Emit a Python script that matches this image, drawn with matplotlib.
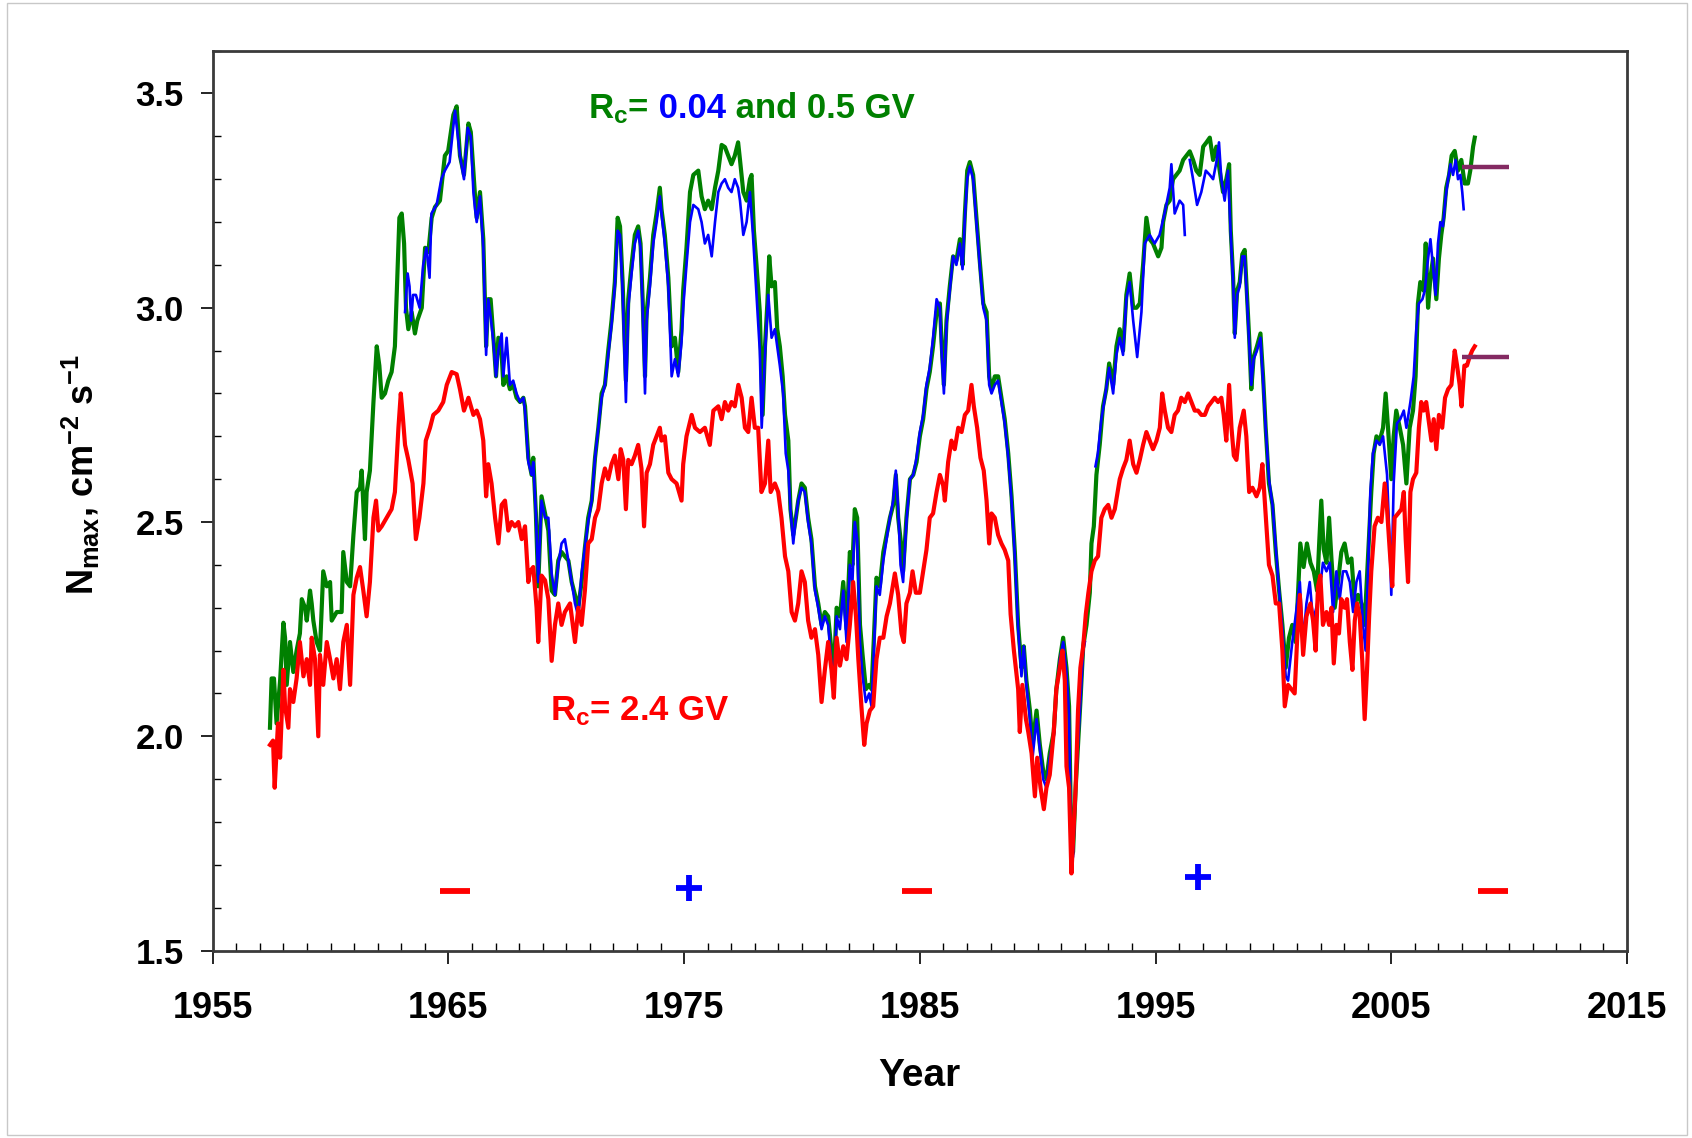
import numpy as np
import matplotlib
matplotlib.use('Agg')
import matplotlib.pyplot as plt
from matplotlib.patches import Rectangle
from matplotlib.ticker import MultipleLocator

plt.rcParams['font.family'] = 'Liberation Sans'
plt.rcParams['mathtext.fontset'] = 'custom'
plt.rcParams['mathtext.rm'] = 'Liberation Sans:bold'
plt.rcParams['mathtext.it'] = 'Liberation Sans:bold'
plt.rcParams['mathtext.bf'] = 'Liberation Sans:bold'
plt.rcParams['mathtext.default'] = 'rm'

nan = float('nan')

# Rc = 0.5 GV
green_t = [1957.43, 1957.50, 1957.60, 1957.71, 1957.86, 1958.00, 1958.07, 1958.14, 1958.28, 1958.42,
           1958.56, 1958.70, 1958.78, 1958.92, 1958.99, 1959.13, 1959.20, 1959.27, 1959.41, 1959.55,
           1959.69, 1959.84, 1959.98, 1960.05, 1960.26, 1960.47, 1960.54, 1960.69, 1960.83, 1960.97,
           1961.11, 1961.25, 1961.32, 1961.46, 1961.53, 1961.67, 1961.82, 1961.96, 1962.07, 1962.17,
           1962.31, 1962.45, 1962.59, 1962.73, 1962.80, 1962.92, 1963.02, 1963.12, 1963.20, 1963.30,
           1963.44, 1963.58, 1963.68, 1963.87, 1964.01, 1964.15, 1964.29, 1964.43, 1964.64, 1964.85,
           1964.99, 1965.21, 1965.35, 1965.49, 1965.66, 1965.85, 1965.95, 1966.06, 1966.13, 1966.20,
           1966.34, 1966.48, 1966.60, 1966.69, 1966.79, 1966.91, 1967.02, 1967.12, 1967.26, 1967.33,
           1967.47, 1967.61, 1967.75, 1967.89, 1968.04, 1968.18, 1968.25, 1968.39, 1968.53, 1968.60,
           1968.71, 1968.81, 1968.95, 1969.10, 1969.24, 1969.38, 1969.52, 1969.66, 1969.80, 1969.94,
           1970.09, 1970.23, 1970.37, 1970.51, 1970.65, 1970.79, 1970.93, 1971.08, 1971.22, 1971.36,
           1971.50, 1971.64, 1971.78, 1971.92, 1972.06, 1972.18, 1972.28, 1972.39, 1972.53, 1972.63,
           1972.77, 1972.91, 1973.05, 1973.15, 1973.24, 1973.34, 1973.41, 1973.55, 1973.69, 1973.83,
           1973.97, 1974.04, 1974.18, 1974.33, 1974.47, 1974.61, 1974.75, 1974.89, 1974.96, 1975.10,
           1975.25, 1975.39, 1975.60, 1975.74, 1975.88, 1976.02, 1976.17, 1976.31, 1976.45, 1976.59,
           1976.73, 1976.87, 1977.01, 1977.15, 1977.29, 1977.37, 1977.51, 1977.65, 1977.79, 1977.86,
           1977.96, 1978.07, 1978.21, 1978.33, 1978.43, 1978.53, 1978.61, 1978.71, 1978.85, 1978.95,
           1979.06, 1979.18, 1979.28, 1979.42, 1979.51, 1979.63, 1979.74, 1979.84, 1979.98, 1980.12,
           1980.26, 1980.40, 1980.55, 1980.69, 1980.83, 1980.97, 1981.11, 1981.25, 1981.35, 1981.47,
           1981.61, 1981.75, 1981.89, 1982.03, 1982.14, 1982.24, 1982.34, 1982.46, 1982.57, 1982.71,
           1982.85, 1982.95, 1983.05, 1983.16, 1983.30, 1983.45, 1983.59, 1983.73, 1983.87, 1983.98,
           1984.08, 1984.18, 1984.29, 1984.43, 1984.58, 1984.72, 1984.86, 1985.00, 1985.14, 1985.28,
           1985.42, 1985.56, 1985.71, 1985.85, 1985.92, 1986.02, 1986.13, 1986.27, 1986.41, 1986.55,
           1986.70, 1986.81, 1986.91, 1987.01, 1987.12, 1987.26, 1987.40, 1987.54, 1987.69, 1987.83,
           1987.94, 1988.04, 1988.18, 1988.32, 1988.46, 1988.60, 1988.75, 1988.89, 1989.03, 1989.17,
           1989.31, 1989.41, 1989.52, 1989.67, 1989.78, 1989.95, 1990.09, 1990.23, 1990.37, 1990.51,
           1990.68, 1990.79, 1990.94, 1991.08, 1991.22, 1991.33, 1991.43, 1991.50, 1991.61, 1991.71,
           1991.81, 1991.93, 1992.07, 1992.21, 1992.28, 1992.38, 1992.49, 1992.63, 1992.77, 1992.91,
           1993.03, 1993.20, 1993.34, 1993.48, 1993.62, 1993.76, 1993.90, 1994.05, 1994.19, 1994.33,
           1994.47, 1994.61, 1994.75, 1994.89, 1995.11, 1995.25, 1995.32, 1995.46, 1995.60, 1995.74,
           1995.88, 1996.02, 1996.17, 1996.31, 1996.45, 1996.59, 1996.73, 1996.87, 1997.02, 1997.16,
           1997.30, 1997.44, 1997.58, 1997.72, 1997.86, 1998.00, 1998.12, 1998.19, 1998.29, 1998.36,
           1998.46, 1998.57, 1998.68, 1998.78, 1998.85, 1998.97, 1999.06, 1999.16, 1999.30, 1999.45,
           1999.56, 1999.67, 1999.81, 1999.96, 2000.10, 2000.24, 2000.38, 2000.52, 2000.66, 2000.80,
           2000.94, 2001.04, 2001.14, 2001.28, 2001.42, 2001.57, 2001.71, 2001.85, 2001.94, 2002.03,
           2002.13, 2002.25, 2002.36, 2002.46, 2002.60, 2002.74, 2002.88, 2003.02, 2003.16, 2003.31,
           2003.45, 2003.59, 2003.73, 2003.87, 2003.94, 2004.06, 2004.15, 2004.25, 2004.37, 2004.51,
           2004.65, 2004.76, 2004.86, 2005.00, 2005.10, 2005.21, 2005.36, 2005.50, 2005.64, 2005.78,
           2005.92, 2006.03, 2006.13, 2006.23, 2006.37, 2006.46, 2006.56, 2006.66, 2006.77, 2006.91,
           2007.02, 2007.12, 2007.22, 2007.33, 2007.45, 2007.56, 2007.69, 2007.83, 2007.97, 2008.11,
           2008.25, 2008.35, 2008.47, 2008.54]
green_v = [2.02, 2.135, 2.135, 2.03, 2.13, 2.265, 2.23, 2.12, 2.22, 2.15,
           2.20, 2.24, 2.32, 2.30, 2.27, 2.34, 2.31, 2.27, 2.22, 2.20,
           2.385, 2.35, 2.36, 2.27, 2.29, 2.29, 2.43, 2.36, 2.35, 2.47,
           2.57, 2.58, 2.62, 2.46, 2.57, 2.62, 2.78, 2.91, 2.865, 2.79,
           2.80, 2.83, 2.85, 2.91, 3.02, 3.21, 3.22, 3.15, 3.00, 2.95,
           2.99, 2.94, 2.97, 3.00, 3.14, 3.13, 3.21, 3.235, 3.25, 3.355,
           3.366, 3.45, 3.47, 3.355, 3.31, 3.43, 3.41, 3.32, 3.26, 3.21,
           3.27, 3.16, 2.91, 3.02, 3.02, 2.93, 2.84, 2.93, 2.89, 2.82,
           2.84, 2.81, 2.82, 2.79, 2.78, 2.79, 2.77, 2.65, 2.61, 2.65,
           2.52, 2.35, 2.56, 2.52, 2.48, 2.34, 2.33, 2.41, 2.43, 2.42,
           2.41, 2.36, 2.33, 2.30, 2.36, 2.44, 2.51, 2.55, 2.65, 2.72,
           2.80, 2.82, 2.90, 2.97, 3.06, 3.21, 3.19, 3.06, 2.83, 3.02,
           3.10, 3.17, 3.19, 3.15, 3.02, 2.84, 2.99, 3.07, 3.17, 3.22,
           3.28, 3.23, 3.17, 3.07, 2.91, 2.93, 2.85, 2.95, 3.04, 3.14,
           3.27, 3.31, 3.32, 3.26, 3.23, 3.25, 3.23, 3.28, 3.32, 3.38,
           3.375, 3.355, 3.335, 3.355, 3.386, 3.345, 3.27, 3.25, 3.30, 3.31,
           3.18, 3.10, 2.99, 2.75, 2.91, 3.01, 3.12, 3.05, 3.06, 2.95,
           2.91, 2.84, 2.75, 2.69, 2.53, 2.47, 2.51, 2.55, 2.59, 2.58,
           2.51, 2.46, 2.35, 2.31, 2.26, 2.29, 2.28, 2.20, 2.15, 2.30,
           2.28, 2.36, 2.25, 2.43, 2.40, 2.53, 2.51, 2.26, 2.19, 2.11,
           2.12, 2.11, 2.23, 2.37, 2.35, 2.43, 2.47, 2.51, 2.54, 2.61,
           2.51, 2.46, 2.385, 2.51, 2.60, 2.61, 2.64, 2.70, 2.74, 2.81,
           2.85, 2.91, 2.99, 3.01, 2.92, 2.82, 2.97, 3.05, 3.12, 3.11,
           3.16, 3.10, 3.22, 3.32, 3.34, 3.31, 3.21, 3.11, 3.01, 2.99,
           2.84, 2.81, 2.84, 2.84, 2.79, 2.74, 2.66, 2.56, 2.43, 2.26,
           2.16, 2.21, 2.13, 2.06, 1.98, 2.06, 1.98, 1.92, 1.90, 1.96,
           2.01, 2.11, 2.18, 2.23, 2.16, 2.07, 1.72, 1.73, 1.88, 1.98,
           2.08, 2.21, 2.26, 2.335, 2.45, 2.49, 2.61, 2.68, 2.77, 2.81,
           2.87, 2.82, 2.91, 2.95, 2.90, 3.03, 3.08, 3.00, 3.00, 3.01,
           3.10, 3.21, 3.16, 3.15, 3.12, 3.14, 3.20, 3.24, 3.25, 3.30,
           3.31, 3.32, 3.345, 3.355, 3.365, 3.345, 3.32, 3.31, 3.376, 3.386,
           3.397, 3.345, 3.376, 3.32, 3.27, 3.30, 3.335, 3.18, 3.07, 2.94,
           3.04, 3.06, 3.125, 3.135, 3.06, 2.93, 2.81, 2.885, 2.91, 2.94,
           2.84, 2.72, 2.59, 2.54, 2.43, 2.34, 2.26, 2.16, 2.23, 2.26,
           2.22, 2.33, 2.45, 2.395, 2.45, 2.405, 2.385, 2.34, 2.45, 2.55,
           2.437, 2.405, 2.51, 2.415, 2.30, 2.36, 2.43, 2.45, 2.405, 2.415,
           2.31, 2.33, 2.31, 2.26, 2.34, 2.47, 2.57, 2.66, 2.70, 2.69,
           2.72, 2.80, 2.72, 2.60, 2.70, 2.76, 2.72, 2.68, 2.59, 2.72,
           2.76, 2.84, 3.01, 3.06, 3.04, 3.15, 3.00, 3.07, 3.115, 3.02,
           3.115, 3.17, 3.21, 3.28, 3.31, 3.355, 3.366, 3.32, 3.345, 3.29,
           3.29, 3.32, 3.376, 3.397]

# Rc = 0.04 GV
blue_t = [1963.16, 1963.27, 1963.35, 1963.42, 1963.50, 1963.62, 1963.78, 1963.93, 1964.07, 1964.20,
          1964.28, 1964.50, 1964.70, 1964.85, 1965.05, 1965.28, 1965.49, 1965.66, 1965.82, 1965.95,
          1966.06, 1966.13, 1966.20, 1966.34, 1966.48, 1966.60, 1966.69, 1966.79, 1966.91, 1967.02,
          1967.12, 1967.26, 1967.33, 1967.47, 1967.61, 1967.75, 1967.89, 1968.04, 1968.18, 1968.25,
          1968.39, 1968.53, 1968.60, 1968.71, 1968.81, 1968.95, 1969.10, 1969.24, 1969.38, 1969.52,
          1969.66, 1969.80, 1969.94, 1970.09, 1970.23, 1970.37, 1970.51, 1970.65, 1970.79, 1970.93,
          1971.08, 1971.22, 1971.36, 1971.50, 1971.64, 1971.78, 1971.92, 1972.06, 1972.18, 1972.28,
          1972.39, 1972.53, 1972.63, 1972.77, 1972.91, 1973.05, 1973.15, 1973.24, 1973.34, 1973.41,
          1973.55, 1973.69, 1973.83, 1973.97, 1974.04, 1974.18, 1974.33, 1974.47, 1974.61, 1974.75,
          1974.89, 1974.96, 1975.10, 1975.25, 1975.39, 1975.60, 1975.74, 1975.88, 1976.02, 1976.17,
          1976.31, 1976.45, 1976.59, 1976.73, 1976.87, 1977.01, 1977.15, 1977.29, 1977.37, 1977.51,
          1977.65, 1977.79, 1977.92, 1978.07, 1978.21, 1978.29, 1978.43, 1978.57, 1978.71, 1978.85,
          1979.06, 1979.20, 1979.31, 1979.42, 1979.51, 1979.63, 1979.74, 1979.84, 1979.98, 1980.12,
          1980.26, 1980.40, 1980.55, 1980.69, 1980.83, 1980.97, 1981.11, 1981.25, 1981.35, 1981.47,
          1981.61, 1981.75, 1981.89, 1982.03, 1982.14, 1982.24, 1982.34, 1982.46, 1982.57, 1982.71,
          1982.85, 1982.95, 1983.05, 1983.16, 1983.30, 1983.45, 1983.59, 1983.73, 1983.87, 1983.98,
          1984.08, 1984.18, 1984.29, 1984.43, 1984.58, 1984.72, 1984.86, 1985.00, 1985.14, 1985.28,
          1985.42, 1985.56, 1985.71, 1985.85, 1985.92, 1986.02, 1986.13, 1986.27, 1986.41, 1986.55,
          1986.70, 1986.81, 1986.91, 1987.01, 1987.12, 1987.26, 1987.40, 1987.54, 1987.69, 1987.83,
          1987.94, 1988.04, 1988.18, 1988.32, 1988.46, 1988.60, 1988.75, 1988.89, 1989.03, 1989.17,
          1989.31, 1989.41, 1989.52, 1989.67, 1989.78, 1989.95, 1990.09, 1990.23, 1990.37, 1990.51,
          1990.68, 1990.79, 1990.94, 1991.08, 1991.22, 1991.33, 1991.43, 1991.50, 1991.61, 1991.71,
          1991.81, 1991.93, 1992.00, 1992.20, 1992.45, 1992.55, 1992.70, 1992.85, 1993.03, 1993.20,
          1993.34, 1993.48, 1993.62, 1993.76, 1993.90, 1994.05, 1994.22, 1994.40, 1994.54, 1994.75,
          1994.96, 1995.17, 1995.38, 1995.60, 1995.67, 1995.81, 1996.02, 1996.17, 1996.24, 1996.35,
          1996.45, 1996.59, 1996.76, 1996.94, 1997.13, 1997.30, 1997.44, 1997.58, 1997.69, 1997.79,
          1997.93, 1998.07, 1998.19, 1998.29, 1998.36, 1998.46, 1998.57, 1998.68, 1998.78, 1998.85,
          1998.97, 1999.06, 1999.16, 1999.30, 1999.45, 1999.56, 1999.67, 1999.81, 1999.96, 2000.10,
          2000.24, 2000.38, 2000.52, 2000.62, 2000.80, 2000.94, 2001.12, 2001.26, 2001.40, 2001.54,
          2001.68, 2001.82, 2001.96, 2002.10, 2002.25, 2002.39, 2002.53, 2002.67, 2002.81, 2002.95,
          2003.09, 2003.24, 2003.38, 2003.52, 2003.66, 2003.80, 2003.91, 2004.01, 2004.11, 2004.22,
          2004.37, 2004.51, 2004.65, 2004.82, 2004.93, 2005.00, 2005.10, 2005.24, 2005.38, 2005.53,
          2005.64, 2005.81, 2005.95, 2006.06, 2006.17, 2006.32, 2006.42, 2006.56, 2006.66, 2006.77,
          2006.88, 2006.98, 2007.08, 2007.19, 2007.31, 2007.41, 2007.51, 2007.62, 2007.73, 2007.83,
          2007.93, 2008.01, 2008.07]
blue_v = [2.99, 3.08, 3.05, 2.97, 3.03, 3.03, 3.00, 3.10, 3.14, 3.07,
          3.22, 3.24, 3.30, 3.32, 3.34, 3.46, 3.355, 3.30, 3.42, 3.40,
          3.27, 3.23, 3.20, 3.26, 3.14, 2.89, 3.02, 2.98, 2.92, 2.84,
          2.90, 2.94, 2.84, 2.93, 2.82, 2.83, 2.80, 2.78, 2.79, 2.76,
          2.64, 2.61, 2.64, 2.52, 2.36, 2.55, 2.51, 2.51, 2.38, 2.33,
          2.40, 2.45, 2.46, 2.41, 2.36, 2.31, 2.28, 2.38, 2.44, 2.50,
          2.55, 2.65, 2.72, 2.79, 2.82, 2.89, 2.96, 3.05, 3.18, 3.17,
          3.04, 2.78, 3.00, 3.08, 3.15, 3.18, 3.14, 3.00, 2.80, 2.97,
          3.05, 3.15, 3.20, 3.26, 3.22, 3.15, 3.05, 2.84, 2.88, 2.84,
          2.92, 3.00, 3.10, 3.20, 3.24, 3.23, 3.20, 3.15, 3.17, 3.12,
          3.20, 3.27, 3.29, 3.30, 3.28, 3.27, 3.30, 3.28, 3.25, 3.17,
          3.20, 3.27, 3.17, 3.03, 2.90, 2.72, 2.89, 3.03, 2.93, 2.95,
          2.865, 2.80, 2.66, 2.62, 2.53, 2.45, 2.51, 2.55, 2.58, 2.57,
          2.50, 2.45, 2.34, 2.30, 2.25, 2.28, 2.26, 2.17, 2.11, 2.28,
          2.25, 2.34, 2.22, 2.40, 2.36, 2.50, 2.46, 2.22, 2.14, 2.08,
          2.10, 2.07, 2.20, 2.35, 2.33, 2.41, 2.46, 2.51, 2.55, 2.62,
          2.53, 2.40, 2.36, 2.50, 2.60, 2.61, 2.65, 2.71, 2.75, 2.82,
          2.86, 2.93, 3.02, 3.00, 2.90, 2.80, 2.96, 3.04, 3.12, 3.10,
          3.15, 3.09, 3.21, 3.30, 3.33, 3.30, 3.20, 3.10, 3.00, 2.97,
          2.82, 2.80, 2.82, 2.83, 2.78, 2.73, 2.65, 2.55, 2.42, 2.25,
          2.14, 2.21, 2.12, 2.04, 1.95, 2.04, 1.97, 1.90, 1.88, 1.95,
          2.00, 2.10, 2.18, 2.22, 2.15, 2.05, 1.70, 1.72, 1.88, 1.98,
          2.08, 2.20, 2.22, nan, 2.63, 2.66, 2.74, 2.79, 2.86, 2.80,
          2.89, 2.93, 2.89, 3.02, 3.06, 2.97, 2.885, 2.99, 3.15, 3.17,
          3.15, 3.17, 3.22, 3.28, 3.335, 3.22, 3.25, 3.24, 3.17, nan,
          3.345, 3.30, 3.24, 3.27, 3.32, 3.31, 3.30, 3.34, 3.386, 3.30,
          3.25, 3.32, 3.17, 3.06, 2.93, 3.03, 3.05, 3.12, 3.12, 3.05,
          2.92, 2.82, 2.88, 2.90, 2.93, 2.83, 2.72, 2.60, 2.54, 2.44,
          2.34, 2.25, 2.14, 2.13, 2.22, 2.28, 2.36, 2.22, 2.31, 2.36,
          2.27, 2.30, 2.34, 2.405, 2.385, 2.405, 2.29, 2.385, 2.32, 2.385,
          2.385, 2.36, 2.29, 2.36, 2.385, 2.26, 2.20, 2.385, 2.57, 2.66,
          2.69, 2.68, 2.70, 2.61, 2.45, 2.33, 2.59, 2.73, 2.74, 2.76,
          2.72, 2.78, 2.84, 2.95, 3.01, 3.02, 3.04, 3.115, 3.16, 3.095,
          3.03, 3.15, 3.20, 3.19, 3.26, 3.30, 3.335, 3.31, 3.345, 3.30,
          3.31, 3.27, 3.23]

# Rc = 2.4 GV
red_t = [1957.43, 1957.56, 1957.63, 1957.77, 1957.86, 1958.00, 1958.07, 1958.21, 1958.28, 1958.42,
         1958.56, 1958.70, 1958.85, 1958.99, 1959.13, 1959.20, 1959.34, 1959.48, 1959.55, 1959.69,
         1959.84, 1959.98, 1960.12, 1960.26, 1960.40, 1960.54, 1960.69, 1960.83, 1960.97, 1961.11,
         1961.25, 1961.39, 1961.53, 1961.67, 1961.82, 1961.93, 1962.03, 1962.17, 1962.38, 1962.59,
         1962.73, 1962.88, 1962.98, 1963.06, 1963.16, 1963.30, 1963.48, 1963.62, 1963.77, 1963.94,
         1964.04, 1964.22, 1964.36, 1964.57, 1964.78, 1964.93, 1965.14, 1965.35, 1965.49, 1965.66,
         1965.85, 1966.06, 1966.20, 1966.34, 1966.48, 1966.60, 1966.69, 1966.83, 1966.98, 1967.12,
         1967.26, 1967.40, 1967.54, 1967.68, 1967.82, 1967.97, 1968.11, 1968.25, 1968.39, 1968.46,
         1968.60, 1968.74, 1968.81, 1968.95, 1969.10, 1969.24, 1969.38, 1969.52, 1969.66, 1969.80,
         1969.94, 1970.16, 1970.37, 1970.51, 1970.65, 1970.79, 1970.93, 1971.08, 1971.22, 1971.36,
         1971.50, 1971.64, 1971.78, 1971.92, 1972.06, 1972.21, 1972.31, 1972.42, 1972.53, 1972.63,
         1972.77, 1972.91, 1973.05, 1973.19, 1973.30, 1973.41, 1973.55, 1973.69, 1973.83, 1973.97,
         1974.04, 1974.18, 1974.33, 1974.47, 1974.68, 1974.89, 1974.96, 1975.10, 1975.32, 1975.46,
         1975.67, 1975.88, 1976.09, 1976.24, 1976.45, 1976.59, 1976.73, 1976.87, 1977.01, 1977.15,
         1977.30, 1977.44, 1977.58, 1977.72, 1977.86, 1978.00, 1978.14, 1978.28, 1978.43, 1978.57,
         1978.67, 1978.85, 1978.99, 1979.13, 1979.28, 1979.42, 1979.56, 1979.70, 1979.84, 1979.98,
         1980.12, 1980.26, 1980.40, 1980.55, 1980.69, 1980.83, 1980.97, 1981.11, 1981.25, 1981.35,
         1981.47, 1981.61, 1981.75, 1981.89, 1982.03, 1982.17, 1982.29, 1982.39, 1982.52, 1982.64,
         1982.74, 1982.88, 1983.02, 1983.16, 1983.30, 1983.45, 1983.59, 1983.73, 1983.94, 1984.08,
         1984.22, 1984.32, 1984.43, 1984.58, 1984.69, 1984.83, 1985.00, 1985.14, 1985.28, 1985.42,
         1985.56, 1985.71, 1985.85, 1985.99, 1986.06, 1986.20, 1986.34, 1986.48, 1986.63, 1986.77,
         1986.91, 1987.05, 1987.19, 1987.29, 1987.43, 1987.57, 1987.71, 1987.83, 1987.94, 1988.04,
         1988.18, 1988.32, 1988.46, 1988.60, 1988.75, 1988.85, 1988.99, 1989.17, 1989.24, 1989.35,
         1989.50, 1989.60, 1989.74, 1989.88, 1989.98, 1990.12, 1990.26, 1990.37, 1990.51, 1990.68,
         1990.79, 1990.94, 1991.05, 1991.15, 1991.22, 1991.33, 1991.43, 1991.50, 1991.61, 1991.71,
         1991.81, 1991.93, 1992.04, 1992.15, 1992.28, 1992.42, 1992.56, 1992.70, 1992.84, 1992.99,
         1993.13, 1993.27, 1993.48, 1993.62, 1993.76, 1993.90, 1994.05, 1994.19, 1994.33, 1994.47,
         1994.61, 1994.75, 1994.89, 1995.04, 1995.18, 1995.28, 1995.39, 1995.53, 1995.67, 1995.81,
         1995.95, 1996.09, 1996.24, 1996.38, 1996.52, 1996.66, 1996.80, 1996.94, 1997.09, 1997.23,
         1997.37, 1997.51, 1997.65, 1997.79, 1997.89, 1998.00, 1998.12, 1998.22, 1998.32, 1998.43,
         1998.57, 1998.74, 1998.85, 1998.97, 1999.11, 1999.28, 1999.42, 1999.53, 1999.63, 1999.70,
         1999.81, 1999.96, 2000.10, 2000.24, 2000.38, 2000.48, 2000.62, 2000.76, 2000.90, 2001.00,
         2001.12, 2001.26, 2001.40, 2001.57, 2001.68, 2001.79, 2001.89, 2001.99, 2002.10, 2002.25,
         2002.36, 2002.46, 2002.56, 2002.67, 2002.78, 2002.88, 2003.02, 2003.12, 2003.24, 2003.35,
         2003.45, 2003.55, 2003.66, 2003.77, 2003.87, 2003.97, 2004.06, 2004.15, 2004.29, 2004.43,
         2004.58, 2004.72, 2004.82, 2004.93, 2005.04, 2005.14, 2005.29, 2005.43, 2005.53, 2005.61,
         2005.71, 2005.81, 2005.92, 2006.06, 2006.17, 2006.27, 2006.37, 2006.48, 2006.60, 2006.70,
         2006.80, 2006.91, 2007.02, 2007.16, 2007.28, 2007.41, 2007.55, 2007.69, 2007.79, 2007.90,
         2007.98, 2008.10, 2008.21, 2008.32, 2008.43, 2008.54]
red_v = [1.98, 1.99, 1.88, 2.03, 1.95, 2.155, 2.07, 2.02, 2.11, 2.08,
         2.135, 2.22, 2.14, 2.18, 2.12, 2.23, 2.18, 2.00, 2.19, 2.12,
         2.22, 2.18, 2.135, 2.18, 2.11, 2.22, 2.26, 2.12, 2.33, 2.37,
         2.395, 2.34, 2.28, 2.36, 2.51, 2.55, 2.48, 2.49, 2.51, 2.53,
         2.57, 2.72, 2.80, 2.75, 2.68, 2.645, 2.59, 2.46, 2.51, 2.59,
         2.69, 2.72, 2.75, 2.76, 2.78, 2.82, 2.85, 2.845, 2.81, 2.76,
         2.79, 2.75, 2.76, 2.74, 2.69, 2.56, 2.635, 2.59, 2.51, 2.45,
         2.54, 2.55, 2.48, 2.50, 2.49, 2.50, 2.46, 2.49, 2.36, 2.385,
         2.395, 2.30, 2.22, 2.375, 2.364, 2.32, 2.176, 2.26, 2.31, 2.26,
         2.29, 2.31, 2.22, 2.30, 2.26, 2.34, 2.45, 2.46, 2.51, 2.53,
         2.59, 2.625, 2.60, 2.635, 2.655, 2.60, 2.67, 2.645, 2.53, 2.645,
         2.635, 2.655, 2.68, 2.625, 2.49, 2.615, 2.635, 2.68, 2.70, 2.72,
         2.69, 2.70, 2.615, 2.60, 2.59, 2.55, 2.635, 2.70, 2.75, 2.72,
         2.71, 2.72, 2.68, 2.76, 2.77, 2.74, 2.78, 2.76, 2.78, 2.77,
         2.82, 2.79, 2.72, 2.71, 2.79, 2.72, 2.72, 2.57, 2.59, 2.69,
         2.57, 2.59, 2.57, 2.51, 2.42, 2.385, 2.29, 2.27, 2.31, 2.385,
         2.36, 2.27, 2.23, 2.25, 2.19, 2.08, 2.155, 2.22, 2.155, 2.09,
         2.23, 2.165, 2.21, 2.18, 2.26, 2.36, 2.28, 2.18, 2.07, 1.98,
         2.03, 2.06, 2.07, 2.18, 2.23, 2.23, 2.28, 2.31, 2.38, 2.33,
         2.24, 2.22, 2.31, 2.335, 2.385, 2.335, 2.335, 2.385, 2.435, 2.51,
         2.52, 2.57, 2.61, 2.585, 2.55, 2.64, 2.69, 2.67, 2.72, 2.71,
         2.75, 2.76, 2.82, 2.77, 2.72, 2.65, 2.62, 2.55, 2.45, 2.52,
         2.51, 2.47, 2.45, 2.435, 2.41, 2.285, 2.20, 2.11, 2.01, 2.12,
         2.04, 2.01, 1.96, 1.86, 1.95, 1.88, 1.83, 1.88, 1.91, 2.01,
         2.11, 2.16, 2.20, 2.13, 1.93, 1.88, 1.68, 1.76, 1.88, 2.06,
         2.16, 2.21, 2.285, 2.335, 2.385, 2.41, 2.42, 2.51, 2.53, 2.54,
         2.51, 2.53, 2.60, 2.625, 2.645, 2.69, 2.635, 2.615, 2.645, 2.68,
         2.71, 2.69, 2.67, 2.69, 2.72, 2.80, 2.76, 2.72, 2.71, 2.75,
         2.76, 2.79, 2.78, 2.80, 2.78, 2.76, 2.76, 2.75, 2.75, 2.77,
         2.78, 2.79, 2.78, 2.79, 2.75, 2.69, 2.82, 2.72, 2.655, 2.645,
         2.72, 2.76, 2.70, 2.57, 2.58, 2.56, 2.58, 2.635, 2.55, 2.49,
         2.40, 2.375, 2.31, 2.31, 2.20, 2.07, 2.12, 2.11, 2.10, 2.22,
         2.33, 2.19, 2.28, 2.31, 2.27, 2.20, 2.35, 2.375, 2.26, 2.29,
         2.26, 2.30, 2.17, 2.26, 2.24, 2.32, 2.30, 2.32, 2.22, 2.155,
         2.27, 2.31, 2.28, 2.175, 2.04, 2.155, 2.28, 2.385, 2.49, 2.51,
         2.50, 2.59, 2.53, 2.437, 2.35, 2.51, 2.52, 2.53, 2.57, 2.46,
         2.36, 2.57, 2.60, 2.615, 2.72, 2.78, 2.76, 2.78, 2.73, 2.69,
         2.74, 2.67, 2.75, 2.72, 2.79, 2.81, 2.82, 2.90, 2.865, 2.82,
         2.77, 2.865, 2.865, 2.885, 2.90, 2.91]

# short horizontal bars at the end of the record
bar_y = [3.328, 2.884]
bar_x0 = 2008.0
bar_x1 = 2010.0

# polarity signs
minus_x = [1965.3, 1984.9, 2009.3]
minus_y = [1.64, 1.64, 1.64]
plus_x = [1975.2, 1996.8]
plus_y = [1.647, 1.672]

year_ticks = [1955, 1965, 1975, 1985, 1995, 2005, 2015]

GREEN = '#008000'
BLUE = '#0000ff'
RED = '#ff0000'

fig = plt.figure(figsize=(16.92, 11.38), dpi=100)
ax = fig.add_axes([0.1257, 0.1647, 0.8359, 0.7908])

ax.plot(green_t, green_v, color=GREEN, lw=3.0)
ax.plot(blue_t, blue_v, color=BLUE, lw=1.9)
ax.plot(red_t, red_v, color=RED, lw=3.0)

for y in bar_y:
    ax.plot([bar_x0, bar_x1], [y, y], color='#842a62', lw=3.2, solid_capstyle='butt')

ax.plot(minus_x, minus_y, ls='none', marker='_', ms=21, mew=4.2, color=RED)
ax.plot(plus_x, plus_y, ls='none', marker='+', ms=19, mew=4.2, color=BLUE)

ax.set_xlim(1955, 2015)
ax.set_ylim(1.5, 3.6)
ax.set_xticks(year_ticks)
ax.xaxis.set_minor_locator(MultipleLocator(1))
ax.yaxis.set_major_locator(MultipleLocator(0.5))
ax.yaxis.set_minor_locator(MultipleLocator(0.1))
ax.yaxis.set_major_formatter(plt.FuncFormatter(lambda v, p: '{:.1f}'.format(v)))

ax.tick_params(which='major', direction='out', length=9, width=1.2, color='black')
ax.tick_params(which='minor', direction='in', length=6, width=1.0, color='black')
ax.tick_params(axis='x', which='major', pad=20, labelsize=26)
ax.tick_params(axis='y', which='major', pad=12, labelsize=25)
for lab in ax.get_xticklabels() + ax.get_yticklabels():
    lab.set_fontweight('bold')
ax.tick_params(top=False, right=False, which='both')
for s in ax.spines.values():
    s.set_linewidth(2.0)
    s.set_color('#3a3a3a')

fig.text(0.5432, 0.0545, 'Year', ha='center', va='center', fontsize=28, fontweight='bold')
fig.text(0.048, 0.583, r'N$_{max}$, cm$^{-2}$ s$^{-1}$', rotation=90,
         ha='center', va='center', fontsize=26, fontweight='bold')

# two-colour label on top, pieces placed one after another
renderer = fig.canvas.get_renderer()
x = 1970.93
for s, c in [('R$_c$=', GREEN), (' 0.04', BLUE), (' and 0.5 GV', GREEN)]:
    t = ax.text(x, 3.442, s, color=c, fontsize=25, fontweight='bold', va='baseline', ha='left')
    bb = t.get_window_extent(renderer)
    x = ax.transData.inverted().transform((bb.x1, bb.y0))[0]

ax.text(1969.33, 2.038, 'R$_c$= 2.4 GV', color=RED, fontsize=25, fontweight='bold',
        va='baseline', ha='left')

# thin frame round the whole figure
fig.patches.append(Rectangle((0.004, 0.003), 0.993, 0.994, transform=fig.transFigure,
                             fill=False, edgecolor='#c8c8c8', lw=1.0))

fig.savefig('out.png', dpi=100)
